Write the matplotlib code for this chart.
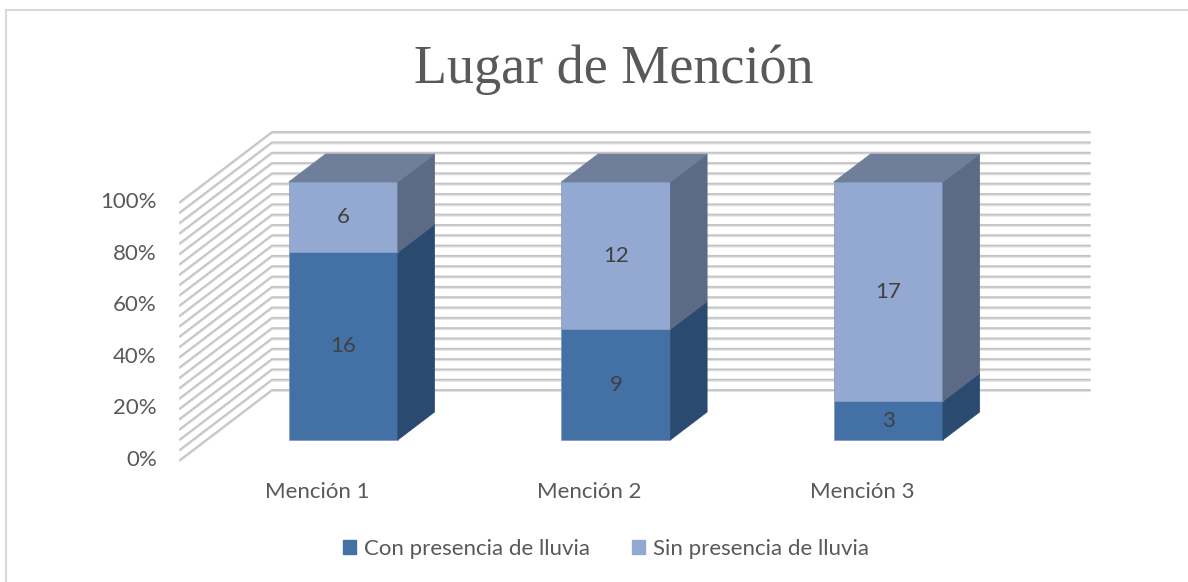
import numpy as np
import matplotlib
matplotlib.use("Agg")
import matplotlib.pyplot as plt
from matplotlib.patches import Patch
from matplotlib.lines import Line2D

# Data
categories = ["Mención 1", "Mención 2", "Mención 3"]
con_lluvia = [16, 9, 3]
sin_lluvia = [6, 12, 17]
series_names = ["Con presencia de lluvia", "Sin presencia de lluvia"]
y_ticks = [0, 20, 40, 60, 80, 100]
grid_steps = np.arange(0, 101, 4)

# Styling
front_cols = ["#4371A6", "#94A9D1"]
side_cols = ["#2B4A6F", "#5C6A85"]
top_col = "#6E7E9B"
text_col = "#595959"
fs = 16

# oblique projection: depth 0..1 shifts to the right and up
DX, DY = 0.3376, 27.13
bar_d0, bar_d1 = 0.286, 0.686
bar_w = 0.4


def proj(x, y, d):
    return x + d * DX, y + d * DY


fig = plt.figure(figsize=(11.88, 5.82), dpi=100)
ax = fig.add_axes([0, 0, 1, 1])
ax.set_xlim(-1.163, 3.196)
ax.set_ylim(-47.29, 178.3)
ax.axis("off")

# walls
wall_l, wall_r = -0.503, 2.499
for g in grid_steps:
    for off, col, lw in [(-0.45, "#e2e2e2", 1.3), (0, "#c4c4c4", 1.3)]:
        xa, ya = proj(wall_l, g + off, 0)
        xb, yb = proj(wall_l, g + off, 1)
        xc, yc = proj(wall_r, g + off, 1)
        ax.plot([xa, xb, xc], [ya, yb, yc], color=col, lw=lw,
                solid_capstyle="round", zorder=1)

# bars (100% stacked)
totals = np.array(con_lluvia) + np.array(sin_lluvia)
for i in range(len(categories)):
    vals = [con_lluvia[i], sin_lluvia[i]]
    pct = np.array(vals) / totals[i] * 100
    bottoms = [0, pct[0]]
    xl = i - bar_w / 2
    xr = i + bar_w / 2
    for s in range(2):
        y0, y1 = bottoms[s], bottoms[s] + pct[s]
        # front face
        pts = [proj(xl, y0, bar_d0), proj(xr, y0, bar_d0),
               proj(xr, y1, bar_d0), proj(xl, y1, bar_d0)]
        ax.fill(*zip(*pts), color=front_cols[s], ec="#7f97bf", lw=0.5, zorder=3)
        # right side
        pts = [proj(xr, y0, bar_d0), proj(xr, y0, bar_d1),
               proj(xr, y1, bar_d1), proj(xr, y1, bar_d0)]
        ax.fill(*zip(*pts), color=side_cols[s], ec=side_cols[s], lw=0.5, zorder=3)
        cx, cy = proj(i, (y0 + y1) / 2, bar_d0)
        ax.text(cx, cy, str(vals[s]), ha="center", va="center",
                fontsize=fs, color="#404040", family="Lato", zorder=5)
    # top
    pts = [proj(xl, 100, bar_d0), proj(xr, 100, bar_d0),
           proj(xr, 100, bar_d1), proj(xl, 100, bar_d1)]
    ax.fill(*zip(*pts), color=top_col, ec=top_col, lw=0.5, zorder=3)

# axis labels
for t in y_ticks:
    ax.text(wall_l - 0.085, t, f"{t}%", ha="right", va="center",
            fontsize=fs, color=text_col, family="Lato")
for i, c in enumerate(categories):
    ax.text(i, -12.4, c, ha="center", va="center", fontsize=fs,
            color=text_col, family="Lato")

ax.text(1.09, 146.1, "Lugar de Mención", ha="center", va="baseline",
        fontsize=39, color=text_col, family="Liberation Serif")

handles = [Patch(color=front_cols[0]), Patch(color=front_cols[1])]
leg = fig.legend(handles, series_names, loc="center", ncol=2,
                 bbox_to_anchor=(0.51, 0.057), frameon=False,
                 handlelength=0.6, handleheight=0.6, handletextpad=0.35,
                 columnspacing=1.9, prop={"family": "Lato", "size": fs})
for t in leg.get_texts():
    t.set_color(text_col)

# chart border (left and top visible)
fig.add_artist(Line2D([5.5 / 1188, 5.5 / 1188], [0, 1 - 10 / 582],
                      color="#d9d9d9", lw=1.5))
fig.add_artist(Line2D([5.5 / 1188, 1], [1 - 10 / 582, 1 - 10 / 582],
                      color="#d9d9d9", lw=1.5))

fig.savefig("out.png", dpi=100)
